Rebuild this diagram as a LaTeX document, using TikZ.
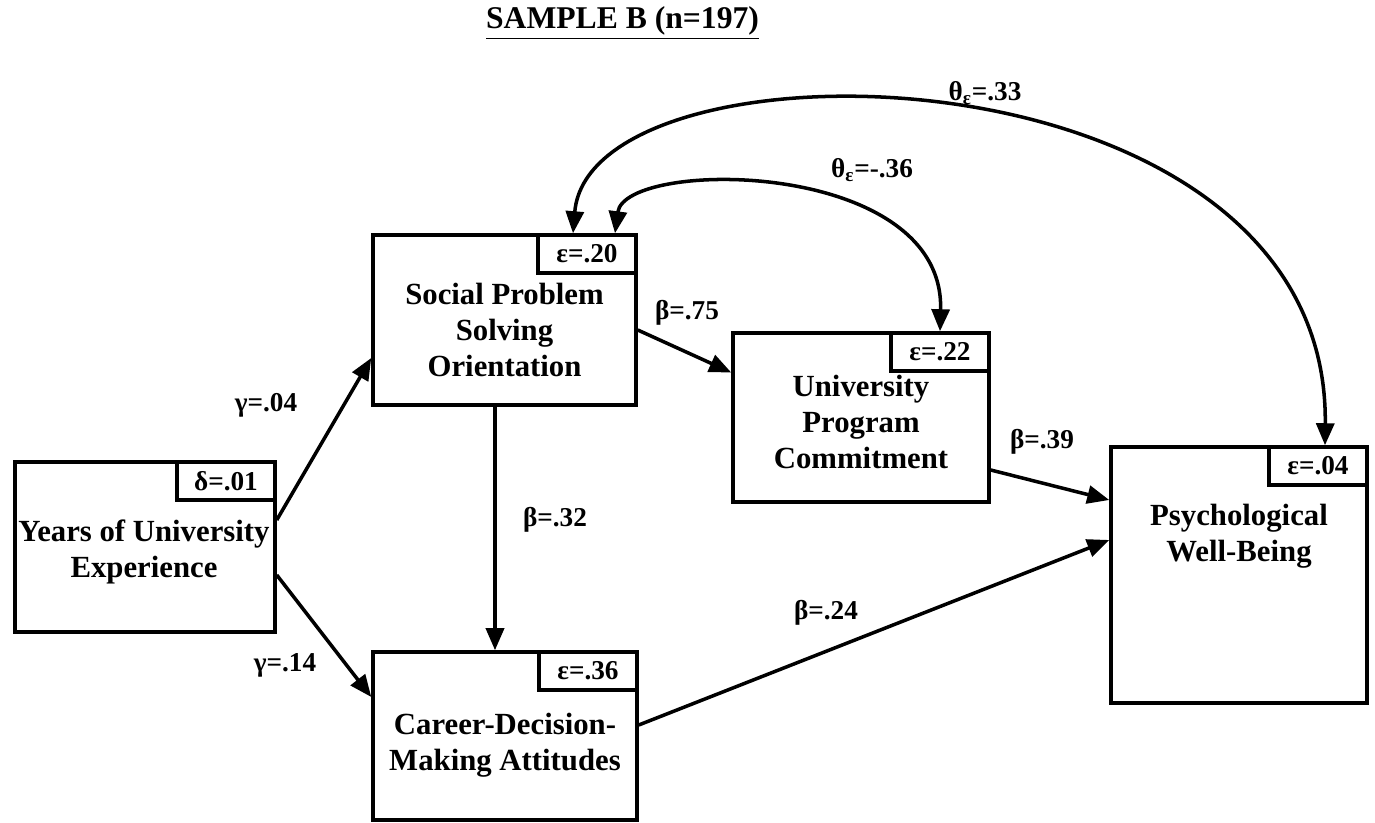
\documentclass[tikz,border=0pt]{standalone}
\usepackage{fontspec}
\setmainfont{Liberation Serif}
\usepackage{tikz}
\usetikzlibrary{arrows.meta,positioning}
\tikzset{font=\bfseries}
\tikzset{every node/.append style={transform shape=false}}
\tikzset{box/.style={draw,line width=2pt,inner sep=0pt}}
\tikzset{boxtext/.style={align=center,font=\fontsize{17.5}{20.5}\selectfont\bfseries}}
\tikzset{errtag/.style={draw,line width=2pt,anchor=north east,minimum width=1.96cm,minimum height=0.76cm,inner sep=0pt,font=\fontsize{15.5}{17}\selectfont\bfseries}}
\tikzset{coef/.style={font=\fontsize{15.5}{17}\selectfont\bfseries}}
\tikzset{path/.style={line width=2pt,-{Triangle[length=0.44cm,width=0.36cm]}}}
\tikzset{corr/.style={line width=2pt,{Triangle[length=0.44cm,width=0.36cm]}-{Triangle[length=0.44cm,width=0.36cm]}}}

\begin{document}
\begin{tikzpicture}
\useasboundingbox (0,0) rectangle (27.5,-16.46);
\node[font=\fontsize{18}{21}\selectfont\bfseries] (title) at (12.45,-0.46) {\underline{SAMPLE B (n=197)}};

% boxes
\node[box,minimum width=5.2cm,minimum height=3.4cm] (yrs) at (2.9,-10.94) {};
\node[box,minimum width=5.26cm,minimum height=3.4cm] (spso) at (10.09,-6.4) {};
\node[box,minimum width=5.12cm,minimum height=3.38cm] (upc) at (17.22,-8.35) {};
\node[box,minimum width=5.12cm,minimum height=5.12cm] (pwb) at (24.78,-11.5) {};
\node[box,minimum width=5.28cm,minimum height=3.36cm] (cdma) at (10.1,-14.72) {};

\node[boxtext] (yrstext) at (2.88,-11.04) {Years of University\\Experience};
\node[boxtext] (spsotext) at (10.09,-6.6) {Social Problem\\Solving\\Orientation};
\node[boxtext] (upctext) at (17.22,-8.44) {University\\Program\\Commitment};
\node[boxtext] (pwbtext) at (24.78,-10.72) {Psychological\\Well-Being};
\node[boxtext] (cdmatext) at (10.1,-14.9) {Career-Decision-\\Making Attitudes};

% error terms
\node[errtag] (yrserr) at (yrs.north east) {δ=.01};
\node[errtag] (spsoerr) at (spso.north east) {ε=.20};
\node[errtag] (upcerr) at (upc.north east) {ε=.22};
\node[errtag] (pwberr) at (pwb.north east) {ε=.04};
\node[errtag] (cdmaerr) at (cdma.north east) {ε=.36};

% paths
\draw[path] ([yshift=0.54cm]yrs.east) -- ([yshift=-0.76cm]spso.west);
\draw[path] ([yshift=-0.56cm]yrs.east) -- ([yshift=0.78cm]cdma.west);
\draw[path] ([xshift=-0.19cm]spso.south) -- ([xshift=-0.2cm]cdma.north);
\draw[path] ([yshift=-0.2cm]spso.east) -- ([yshift=0.9cm]upc.west);
\draw[path] ([yshift=-1.05cm]upc.east) -- ([yshift=1.5cm]pwb.west);
\draw[path] ([yshift=0.22cm]cdma.east) -- ([yshift=0.7cm]pwb.west);

% correlated errors
\draw[corr] ([xshift=2.21cm]spso.north) .. controls +(0.2,1.5) and +(0.1,3.46) .. ([xshift=1.58cm]upc.north);
\draw[corr] ([xshift=1.37cm]spso.north) .. controls +(0.34,4.1) and +(0.1,8.14) .. ([xshift=1.72cm]pwb.north);

% coefficients
\node[coef] (t1) at (19.7,-1.86) {θ\textsubscript{ε}=.33};
\node[coef] (t2) at (17.44,-3.4) {θ\textsubscript{ε}=-.36};
\node[coef] (b1) at (13.74,-6.26) {β=.75};
\node[coef] (g1) at (5.32,-8.1) {γ=.04};
\node[coef] (b2) at (11.1,-10.4) {β=.32};
\node[coef] (b3) at (20.84,-8.84) {β=.39};
\node[coef] (b4) at (16.52,-12.26) {β=.24};
\node[coef] (g2) at (5.7,-13.3) {γ=.14};
\end{tikzpicture}
\end{document}
